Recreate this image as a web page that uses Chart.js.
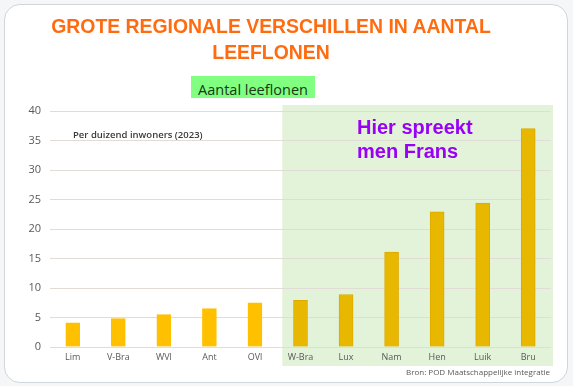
<!DOCTYPE html>
<html>
<head>
<meta charset="utf-8">
<script src="https://cdn.jsdelivr.net/npm/chart.js@4/dist/chart.umd.min.js"></script>
<style>
  html,body{margin:0;padding:0;}
  body{width:573px;height:386px;background:#f5f6f7;position:relative;overflow:hidden;font-family:"Liberation Sans",Arial,sans-serif;}
  #card{position:absolute;left:4px;top:4px;width:562px;height:377px;background:#fff;border:1px solid #cfd6de;border-radius:16px;}
  #chartWrap{position:absolute;left:0;top:0;width:573px;height:386px;}
  .t{position:absolute;white-space:nowrap;}
  #title{left:0;width:542px;top:13px;text-align:center;font-weight:bold;font-size:19.4px;line-height:26px;color:#ff6c10;}
  #sub{left:191px;top:76px;width:124px;height:22px;background:#80ff80;font-family:"Open Sans",sans-serif;font-size:14.5px;line-height:28px;text-align:center;color:#183818;overflow:hidden;}
  #unit{left:73px;top:128px;font-family:"Open Sans",sans-serif;font-weight:600;font-size:9.5px;color:#3a3a3a;}
  #frans{left:357px;top:115px;font-weight:bold;font-size:20px;line-height:24px;color:#9a00f5;}
  #bron{left:406px;top:366px;font-family:"Open Sans",sans-serif;font-size:8px;color:#595959;}
</style>
</head>
<body>
<div id="card"></div>
<div id="chartWrap"><canvas id="c" width="573" height="386"></canvas></div>
<div class="t" id="title">GROTE REGIONALE VERSCHILLEN IN AANTAL<br>LEEFLONEN</div>
<div class="t" id="sub">Aantal leeflonen</div>
<div class="t" id="unit">Per duizend inwoners (2023)</div>
<div class="t" id="frans">Hier spreekt<br>men Frans</div>
<div class="t" id="bron">Bron: POD Maatschappelijke integratie</div>
<script>
const categories = ['Lim','V-Bra','WVl','Ant','OVl','W-Bra','Lux','Nam','Hen','Luik','Bru'];
const values = [4.1, 4.8, 5.5, 6.5, 7.5, 7.9, 8.9, 16.1, 22.9, 24.4, 37.0];
const frenchStart = 5; // index of first French-speaking region
const yTicks = [0,5,10,15,20,25,30,35,40];

const greenZone = {
  id:'greenZone',
  beforeDraw(chart){
    const {ctx, chartArea, scales} = chart;
    const x = scales.x;
    const a = x.getPixelForValue(frenchStart-1), b = x.getPixelForValue(frenchStart);
    const left = a + (b-a)*0.6;
    ctx.save();
    ctx.fillStyle = '#e3f3d9';
    ctx.fillRect(left, chartArea.top-6, chartArea.right+2-left, chartArea.bottom+19-(chartArea.top-6));
    ctx.restore();
  }
};

new Chart(document.getElementById('c'), {
  type:'bar',
  data:{
    labels:categories,
    datasets:[{
      data:values,
      backgroundColor: categories.map((_,i)=> i>=frenchStart ? '#e8b800' : '#ffc000'),
      borderColor: categories.map((_,i)=> i>=frenchStart ? '#dcaa00' : '#ffc000'),
      borderWidth: 1,
      barThickness: 14
    }]
  },
  options:{
    responsive:false,
    animation:false,
    layout:{padding:{left:0,right:22,top:111,bottom:0}},
    plugins:{legend:{display:false},tooltip:{enabled:false}},
    scales:{
      x:{
        grid:{display:false,drawTicks:false},
        border:{display:false},
        ticks:{color:'#595959',font:{family:'Open Sans',size:9},padding:5,maxRotation:0},
        afterFit(s){ s.height = 39; }
      },
      y:{
        min:0,max:40,
        afterBuildTicks(s){ s.ticks = yTicks.map(v=>({value:v})); },
        grid:{color:'#e2dcd6',drawTicks:false,lineWidth:1},
        border:{display:false},
        ticks:{color:'#595959',font:{family:'Open Sans',size:11},padding:9},
        afterFit(s){ s.width = 50; }
      }
    }
  },
  plugins:[greenZone]
});
</script>
</body>
</html>
